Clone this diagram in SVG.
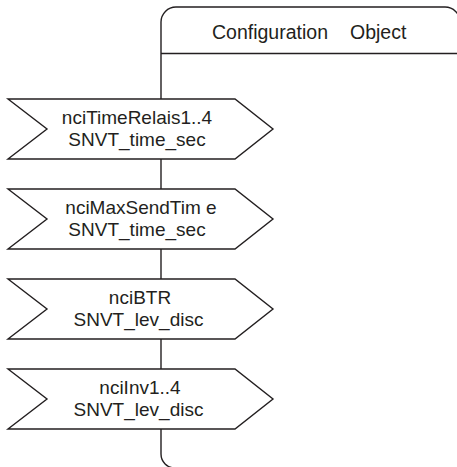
<svg xmlns="http://www.w3.org/2000/svg" width="457" height="467" viewBox="0 0 457 467">
<style>
.ln{fill:none;stroke:#231f20;stroke-width:1.4}
.nd{fill:#fff;stroke:#231f20;stroke-width:1.4;stroke-linejoin:miter}
.tx{font-family:"Liberation Sans",Arial,sans-serif;font-size:19px;fill:#231f20;text-anchor:middle}
.hd{font-family:"Liberation Sans",Arial,sans-serif;font-size:19.5px;fill:#231f20}
</style>
<rect width="457" height="467" fill="#fff"/>
<g id="container">
<path class="ln" d="M161,99 L161,22 A15,15 0 0 1 176,7 L445,7 A15,15 0 0 1 460,22 L460,469"/>
<path class="ln" d="M161,429 L161,454 A14,14 0 0 0 175,468 L460,468"/>
<line class="ln" x1="161" y1="53.5" x2="457" y2="53.5"/>
<text class="hd" x="212" y="38.5">Configuration</text>
<text class="hd" x="350" y="38.5">Object</text>
</g>
<g id="connectors">
<line class="ln" x1="161" y1="159" x2="161" y2="189"/>
<line class="ln" x1="161" y1="249" x2="161" y2="279"/>
<line class="ln" x1="161" y1="339" x2="161" y2="369"/>
</g>
<g id="node1">
<polygon class="nd" points="8,99 235,99 273,129 235,159 8,159 47,129"/>
<text class="tx" x="137" y="124">nciTimeRelais1..4</text>
<text class="tx" x="137" y="145.5">SNVT_time_sec</text>
</g>
<g id="node2">
<polygon class="nd" points="8,189 235,189 273,219 235,249 8,249 47,219"/>
<text class="tx" x="141" y="214">nciMaxSendTim e</text>
<text class="tx" x="137" y="235.5">SNVT_time_sec</text>
</g>
<g id="node3">
<polygon class="nd" points="8,279 235,279 273,309 235,339 8,339 47,309"/>
<text class="tx" x="140" y="304">nciBTR</text>
<text class="tx" x="138.5" y="325.5">SNVT_lev_disc</text>
</g>
<g id="node4">
<polygon class="nd" points="8,369 235,369 273,399 235,429 8,429 47,399"/>
<text class="tx" x="140" y="394">nciInv1..4</text>
<text class="tx" x="138.5" y="415.5">SNVT_lev_disc</text>
</g>
</svg>
